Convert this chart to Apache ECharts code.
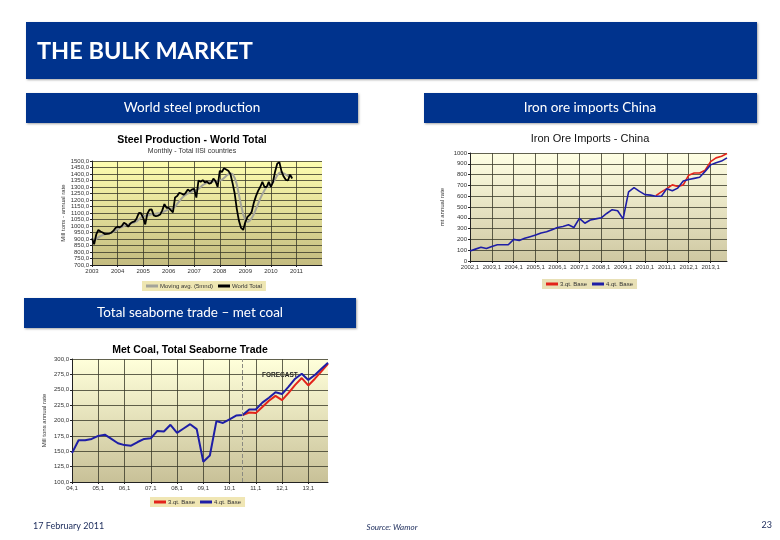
<!DOCTYPE html>
<html><head><meta charset="utf-8">
<script src="https://cdn.jsdelivr.net/npm/echarts/dist/echarts.min.js"></script>
<style>html,body{margin:0;padding:0;background:#fff}#c{width:780px;height:540px}</style>
</head><body><div id="c"></div>
<script>
// ---------- Steel production (monthly, from 2003-01) ----------
const steelFirstYear = 2003;
const steelLastYear = 2012;
const steelWorldTotal = [
  905, 860, 935, 970, 958, 950, 938, 940, 942, 948, 962, 985,
  995, 990, 1000, 1025, 1015, 995, 1020, 1030, 1035, 1060, 1100, 1098,
  1065, 1012, 1095, 1125, 1128, 1082, 1075, 1080, 1088, 1120, 1168, 1140,
  1140, 1122, 1105, 1220, 1230, 1255, 1250, 1240, 1255, 1280, 1268, 1282,
  1285, 1218, 1350, 1340, 1352, 1335, 1342, 1325, 1332, 1365, 1345, 1300,
  1425, 1415, 1445, 1435, 1425, 1400, 1330, 1250, 1130, 1040, 985, 970,
  1030, 1070, 1085, 1110, 1180, 1230, 1270, 1300, 1340, 1300, 1300, 1340,
  1300, 1340, 1420, 1480, 1490, 1420, 1380, 1355, 1350, 1395, 1365
];
const steelMovingAvg = [
  900, 895, 900, 912, 922, 930, 936, 940, 943, 948, 955, 965,
  975, 985, 992, 1000, 1008, 1012, 1018, 1022, 1028, 1035, 1050, 1065,
  1075, 1078, 1080, 1085, 1090, 1092, 1095, 1098, 1100, 1105, 1112, 1120,
  1128, 1132, 1136, 1150, 1170, 1190, 1210, 1228, 1240, 1250, 1258, 1265,
  1272, 1275, 1285, 1300, 1315, 1325, 1332, 1338, 1340, 1342, 1345, 1348,
  1350, 1355, 1370, 1385, 1398, 1405, 1400, 1370, 1320, 1240, 1160, 1090,
  1045, 1030, 1040, 1060, 1090, 1130, 1170, 1210, 1245, 1275, 1300, 1315,
  1320, 1335, 1360, 1390, 1410, 1412, 1405, 1395, 1385, 1382, 1380
];

// ---------- Iron ore imports China (quarterly, 2002,1 .. 2013,4) ----------
const ironFirstYear = 2002;
const ironLastYear = 2013;
const ironBase4q = [
  93, 110, 127, 115,
  135, 150, 150, 150,
  200, 190, 210, 225,
  240, 260, 270, 290,
  310, 320, 335, 310,
  395, 350, 380, 390,
  400, 440, 475, 465,
  390, 640, 680, 645,
  615, 610, 600, 600,
  670, 650, 675, 740,
  755, 765, 775, 830,
  890, 910, 925, 955
];
const ironBase3qStart = '2010,3';
const ironBase3q = [605, 640, 670, 705, 690, 705, 795, 815, 815, 840, 920, 955, 970, 995];

// ---------- Met coal seaborne trade (quarterly, 04,1 .. 13,4) ----------
const coalYears = ['04', '05', '06', '07', '08', '09', '10', '11', '12', '13'];
const coalBase4q = [
  147, 168, 168, 170,
  175, 177, 170, 163,
  160, 159, 165, 170,
  171, 183, 182, 193,
  180, 187, 194, 186,
  133, 143, 199, 196,
  202, 208, 209, 218,
  218, 229, 237, 246,
  243, 255, 268, 276,
  266, 274, 284, 294
];
const coalBase3qStart = '10,3';
const coalBase3q = [209, 213, 212, 222, 232, 240, 233, 245, 258, 269, 257, 268, 280, 292];
const coalForecastAt = '10,3';

// ---------- categories ----------
const steelMonths = [];
for (let y = steelFirstYear; y < steelLastYear; y++) for (let m = 1; m <= 12; m++) steelMonths.push(y + '-' + (m < 10 ? '0' + m : m));
steelMonths.push(steelLastYear + '-01');
const ironQuarters = [];
for (let y = ironFirstYear; y <= ironLastYear; y++) for (let q = 1; q <= 4; q++) ironQuarters.push(y + ',' + q);
const coalQuarters = [];
coalYears.forEach(y => { for (let q = 1; q <= 4; q++) coalQuarters.push(y + ',' + q); });

function pad(cats, start, vals) {
  const i0 = cats.indexOf(start);
  return cats.map((c, i) => (i >= i0 && i - i0 < vals.length) ? vals[i - i0] : null);
}
const ironRed = pad(ironQuarters, ironBase3qStart, ironBase3q);
const coalRed = pad(coalQuarters, coalBase3qStart, coalBase3q);

const AF = 'Liberation Sans, Arial, sans-serif';
const SF = 'Lato, Open Sans, sans-serif';
const BLUE = '#00338D';
const grad = (a, b) => ({ type: 'linear', x: 0, y: 0, x2: 0, y2: 1, colorStops: [{ offset: 0, color: a }, { offset: 1, color: b }] });

const gridLine = { show: true, lineStyle: { color: '#3a3a2a', width: 0.8 } };
const axisLbl = { fontSize: 6, color: '#333', fontFamily: AF };

function yAxis(gi, min, max, step, name) {
  return {
    type: 'value', gridIndex: gi, min: min, max: max, interval: step,
    name: name, nameLocation: 'middle', nameRotate: 90, nameGap: 25,
    nameTextStyle: { fontSize: 6, color: '#333', fontFamily: AF },
    axisLine: { show: true, lineStyle: { color: '#222', width: 1 } },
    axisTick: { show: true, length: 2, lineStyle: { color: '#222' } },
    axisLabel: Object.assign({ margin: 3, formatter: v => (step < 100 ? v.toFixed(1).replace('.', ',') : v) }, axisLbl),
    splitLine: gridLine
  };
}

function xAxis(gi, cats, every, fmt, skipLast) {
  const n = cats.length;
  const show = i => i % every === 0 && !(skipLast && i === n - 1);
  return {
    type: 'category', gridIndex: gi, data: cats, boundaryGap: false,
    axisLine: { show: true, lineStyle: { color: '#222', width: 1 } },
    axisTick: { show: true, length: 2, interval: (i) => show(i), lineStyle: { color: '#222' } },
    axisLabel: Object.assign({ margin: 3, interval: (i) => show(i), formatter: fmt }, axisLbl),
    splitLine: { show: true, interval: (i) => show(i) && i > 0, lineStyle: { color: '#3a3a2a', width: 0.8 } }
  };
}

const chart = echarts.init(document.getElementById('c'), null, { renderer: 'canvas' });

const shadow = { shadowBlur: 2, shadowOffsetX: 1, shadowOffsetY: 1, shadowColor: 'rgba(0,0,0,0.35)' };
function box(x, y, w, h) { return { type: 'rect', shape: { x: x, y: y, width: w, height: h }, style: Object.assign({ fill: BLUE }, shadow) }; }
function txt(t, x, y, font, fill, align) {
  return { type: 'text', x: x, y: y, style: { text: t, font: font, fill: fill || '#000', textAlign: align || 'left', textVerticalAlign: 'middle', verticalAlign: 'middle' } };
}
const legendBase = { padding: [2, 4], itemGap: 5, itemWidth: 12, itemHeight: 3, icon: 'rect', textStyle: { fontSize: 6, color: '#333', fontFamily: AF, padding: [0, 0, 0, -3] } };

chart.setOption({
  animation: false,
  backgroundColor: '#fff',
  grid: [
    { left: 92, top: 161, width: 230, height: 104, show: true, borderWidth: 0, backgroundColor: grad('#FEFEB0', '#C4BC80') },
    { left: 470, top: 153, width: 257, height: 108, show: true, borderWidth: 0, backgroundColor: grad('#FFFFE4', '#CFC8A2') },
    { left: 72, top: 359, width: 256, height: 123, show: true, borderWidth: 0, backgroundColor: grad('#FFFFDA', '#C8C198') }
  ],
  xAxis: [
    xAxis(0, steelMonths, 12, v => v.slice(0, 4), true),
    xAxis(1, ironQuarters, 4, v => v, false),
    xAxis(2, coalQuarters, 4, v => v, false)
  ],
  yAxis: [
    yAxis(0, 700, 1500, 50, 'Mill tons - annual rate'),
    yAxis(1, 0, 1000, 100, 'mt annual rate'),
    yAxis(2, 100, 300, 25, 'Mill tons annual rate')
  ],
  legend: [
    Object.assign({}, legendBase, { data: ['Moving avg. (5mnd)', 'World Total'], left: 142, top: 281, backgroundColor: '#EEE6B2' }),
    Object.assign({}, legendBase, { data: ['3.qt. Base', '4.qt. Base'], left: 542, top: 279, backgroundColor: '#E8E0B6' }),
    Object.assign({}, legendBase, { data: ['3.qt. Base', '4.qt. Base'], left: 150, top: 497, backgroundColor: '#F0E6B4' })
  ],
  series: [
    { name: 'Moving avg. (5mnd)', type: 'line', xAxisIndex: 0, yAxisIndex: 0, data: steelMovingAvg, showSymbol: false, lineStyle: { color: '#A4A49A', width: 2 }, itemStyle: { color: '#A4A49A' } },
    { name: 'World Total', type: 'line', xAxisIndex: 0, yAxisIndex: 0, data: steelWorldTotal, showSymbol: false, lineStyle: { color: '#000', width: 1.8 }, itemStyle: { color: '#000' } },
    { name: '3.qt. Base', type: 'line', xAxisIndex: 1, yAxisIndex: 1, data: ironRed, showSymbol: false, lineStyle: { color: '#E3241B', width: 1.6 }, itemStyle: { color: '#E3241B' } },
    { name: '4.qt. Base', type: 'line', xAxisIndex: 1, yAxisIndex: 1, data: ironBase4q, showSymbol: false, lineStyle: { color: '#1E1EA6', width: 1.6 }, itemStyle: { color: '#1E1EA6' } },
    { name: '3.qt. Base', type: 'line', xAxisIndex: 2, yAxisIndex: 2, data: coalRed, showSymbol: false, lineStyle: { color: '#E3241B', width: 2 }, itemStyle: { color: '#E3241B' } },
    { name: '4.qt. Base', type: 'line', xAxisIndex: 2, yAxisIndex: 2, data: coalBase4q, showSymbol: false, lineStyle: { color: '#1E1EA6', width: 2 }, itemStyle: { color: '#1E1EA6' },
      markLine: { silent: true, symbol: 'none', label: { show: false }, lineStyle: { color: '#8a8a80', type: 'dashed', width: 1 }, data: [{ xAxis: coalForecastAt }] } }
  ],
  graphic: [
    box(26, 22, 731, 57),
    txt('THE BULK MARKET', 37, 51, 'bold 23.5px ' + SF, '#fff'),
    box(26, 93, 332, 30),
    txt('World steel production', 192, 108, '13.5px ' + SF, '#fff', 'center'),
    box(424, 93, 333, 30),
    txt('Iron ore imports China', 590, 108, '13.5px ' + SF, '#fff', 'center'),
    box(24, 298, 332, 30),
    txt('Total seaborne trade \u2013 met coal', 190, 313, '13.5px ' + SF, '#fff', 'center'),
    txt('Steel Production - World Total', 192, 140, 'bold 10.5px ' + AF, '#000', 'center'),
    txt('Monthly - Total IISI countries', 192, 151, '7px ' + AF, '#333', 'center'),
    txt('Iron Ore Imports - China', 590, 139, '11px ' + AF, '#111', 'center'),
    txt('Met Coal, Total Seaborne Trade', 190, 350, 'bold 10.5px ' + AF, '#000', 'center'),
    txt('FORECAST', 262, 375, 'bold 6.5px ' + AF, '#222', 'left'),
    txt('17 February 2011', 33, 526, '9px ' + SF, '#1a2a5a', 'left'),
    txt('Source: Wamor', 392, 527, 'italic 8px ' + SF, '#1a2a5a', 'center'),
    txt('23', 772, 525, '9px ' + SF, '#1a2a5a', 'right')
  ]
});
</script></body></html>
